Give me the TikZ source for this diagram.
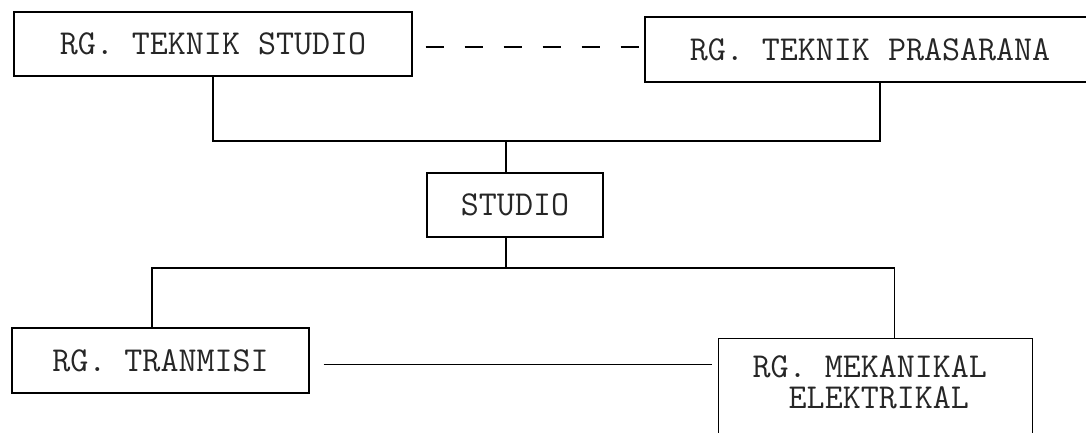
\documentclass[tikz,border=0pt]{standalone}
\usepackage{fontspec}
\begin{document}
\begin{tikzpicture}[x=1pt,y=-1pt,
  box/.style={draw, line width=1.3pt, inner sep=0pt, text=black!85,
    font=\ttfamily\fontsize{35}{31}\selectfont},
  conn/.style={line width=1.3pt},
  dashconn/.style={conn, dash pattern=on 18pt off 21pt, dash phase=26pt}]
\path[use as bounding box] (0,0) rectangle (1086,432);
\clip (0,0) rectangle (1086,432);
% boxes
\node[box, minimum width=398pt, minimum height=64pt] (ts) at (213,44) {RG. TEKNIK STUDIO};
\node[box, minimum width=450pt, minimum height=65pt] (tp) at (870,49.5) {RG. TEKNIK PRASARANA};
\node[box, minimum width=176pt, minimum height=64pt] (studio) at (515,205) {STUDIO};
\node[box, minimum width=297pt, minimum height=65pt] (tr) at (160.5,360.5) {RG. TRANMISI};
\node[box, anchor=north west, inner xsep=34pt, inner ysep=17pt] (me) at (718,338)
  {\begin{minipage}[t][100pt][t]{246pt}RG. MEKANIKAL\\\phantom{MM}ELEKTRIKAL\end{minipage}};
% junctions
\coordinate (j1) at (506,141);
\coordinate (j2) at (506,268);
% connectors
\draw[dashconn] ([yshift=-3pt]ts.east) -- ([yshift=-3pt]ts.east -| tp.west);
\draw[conn] (ts.south) |- (j1) -| ([xshift=10pt]tp.south);
\draw[conn] ([xshift=-9pt]studio.north) -- (j1);
\draw[conn] ([xshift=-9pt]studio.south) -- (j2);
\draw[conn] ([xshift=-8.5pt]tr.north) |- (j2) -| ([xshift=19pt]me.north);
\draw[conn, shorten <=14pt, shorten >=6pt] ([yshift=-4pt]tr.east) -- ([yshift=-4pt]tr.east -| me.west);
\end{tikzpicture}
\end{document}
